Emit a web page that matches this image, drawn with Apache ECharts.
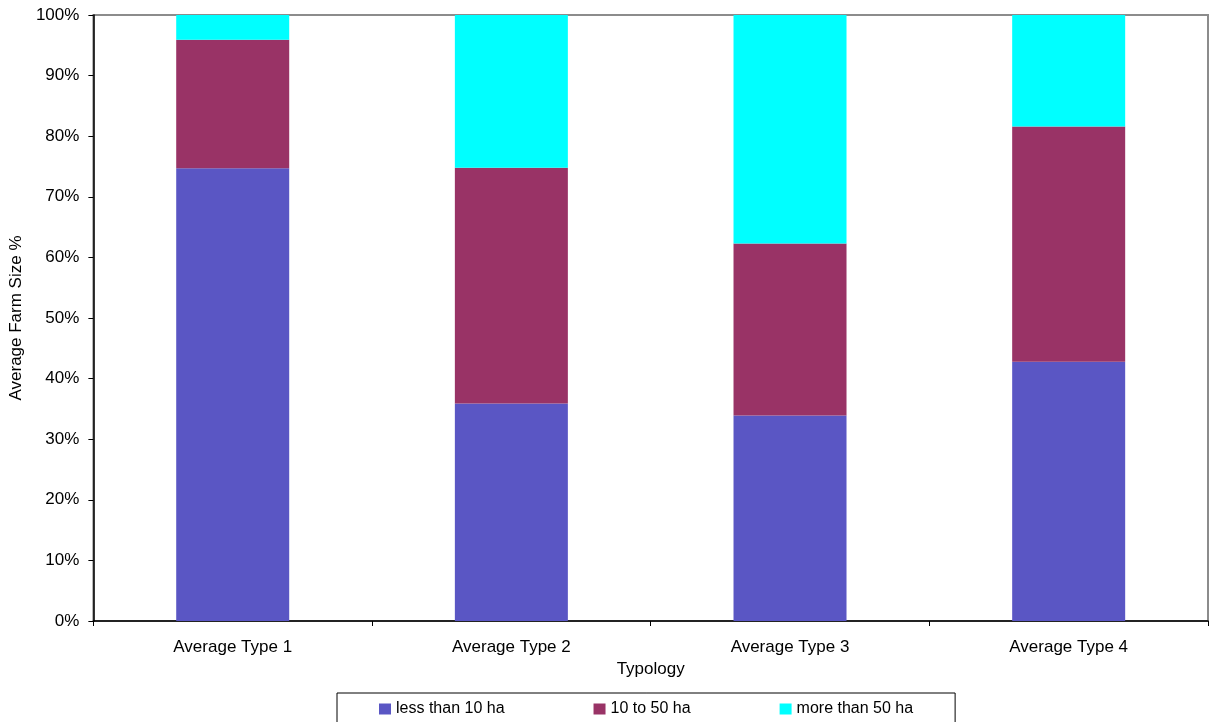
<!DOCTYPE html>
<html>
<head>
<meta charset="utf-8">
<style>
  html, body { margin: 0; padding: 0; background: #ffffff; }
  #chart { width: 1210px; height: 722px; }
</style>
<script src="https://cdn.jsdelivr.net/npm/echarts@6/dist/echarts.min.js"></script>
</head>
<body>
<div id="chart"></div>
<script>
// Farm size share (%) by typology
const categories = ['Average Type 1', 'Average Type 2', 'Average Type 3', 'Average Type 4'];
const lessThan10 = [74.7, 35.9, 33.9, 42.8];
const from10to50 = [21.2, 38.9, 28.4, 38.8];
const moreThan50 = [4.1, 25.2, 37.7, 18.4];
const seriesNames = ['less than 10 ha', '10 to 50 ha', 'more than 50 ha'];
const yTicks = [0, 10, 20, 30, 40, 50, 60, 70, 80, 90, 100];

const FONT = '"Liberation Sans", Arial, sans-serif';
const colors = ['#5a56c4', '#993366', '#00ffff'];

const chart = echarts.init(document.getElementById('chart'), null, { renderer: 'canvas' });

function barSeries(name, data, color) {
  return {
    name: name,
    type: 'bar',
    stack: 'total',
    barWidth: 113,
    data: data,
    itemStyle: { color: color },
    emphasis: { disabled: true }
  };
}

chart.setOption({
  animation: false,
  backgroundColor: '#ffffff',
  color: colors,
  textStyle: { fontFamily: FONT },
  grid: {
    left: 93,
    right: 2,
    top: 15,
    bottom: 101,
    show: true,
    borderColor: '#8c8c8c',
    borderWidth: 2,
    backgroundColor: 'transparent'
  },
  legend: {
    data: seriesNames,
    left: 337,
    top: 693,
    orient: 'horizontal',
    itemWidth: 12,
    itemHeight: 11,
    itemGap: 89,
    padding: [8, 42, 8, 42],
    borderColor: '#000000',
    borderWidth: 1,
    icon: 'rect',
    textStyle: { fontFamily: FONT, fontSize: 16, color: '#000000' }
  },
  xAxis: {
    type: 'category',
    data: categories,
    name: 'Typology',
    nameLocation: 'middle',
    nameGap: 38,
    nameTextStyle: { fontFamily: FONT, fontSize: 17, color: '#000000' },
    axisLine: { show: true, lineStyle: { color: '#000000', width: 1.5 } },
    axisTick: { show: true, length: 5, lineStyle: { color: '#000000' } },
    axisLabel: { fontFamily: FONT, fontSize: 17, color: '#000000', margin: 18 },
    splitLine: { show: false }
  },
  yAxis: {
    type: 'value',
    min: 0,
    max: 100,
    interval: 10,
    name: 'Average Farm Size %',
    nameLocation: 'middle',
    nameGap: 64,
    nameRotate: 90,
    nameTextStyle: { fontFamily: FONT, fontSize: 17, color: '#000000' },
    axisLine: { show: true, lineStyle: { color: '#000000', width: 1.5 } },
    axisTick: { show: true, length: 5, lineStyle: { color: '#000000' } },
    axisLabel: {
      fontFamily: FONT, fontSize: 17, color: '#000000', margin: 14,
      formatter: function (v) { return yTicks.indexOf(v) >= 0 ? v + '%' : ''; }
    },
    splitLine: { show: false }
  },
  series: [
    barSeries(seriesNames[0], lessThan10, colors[0]),
    barSeries(seriesNames[1], from10to50, colors[1]),
    barSeries(seriesNames[2], moreThan50, colors[2])
  ]
});
</script>
</body>
</html>
